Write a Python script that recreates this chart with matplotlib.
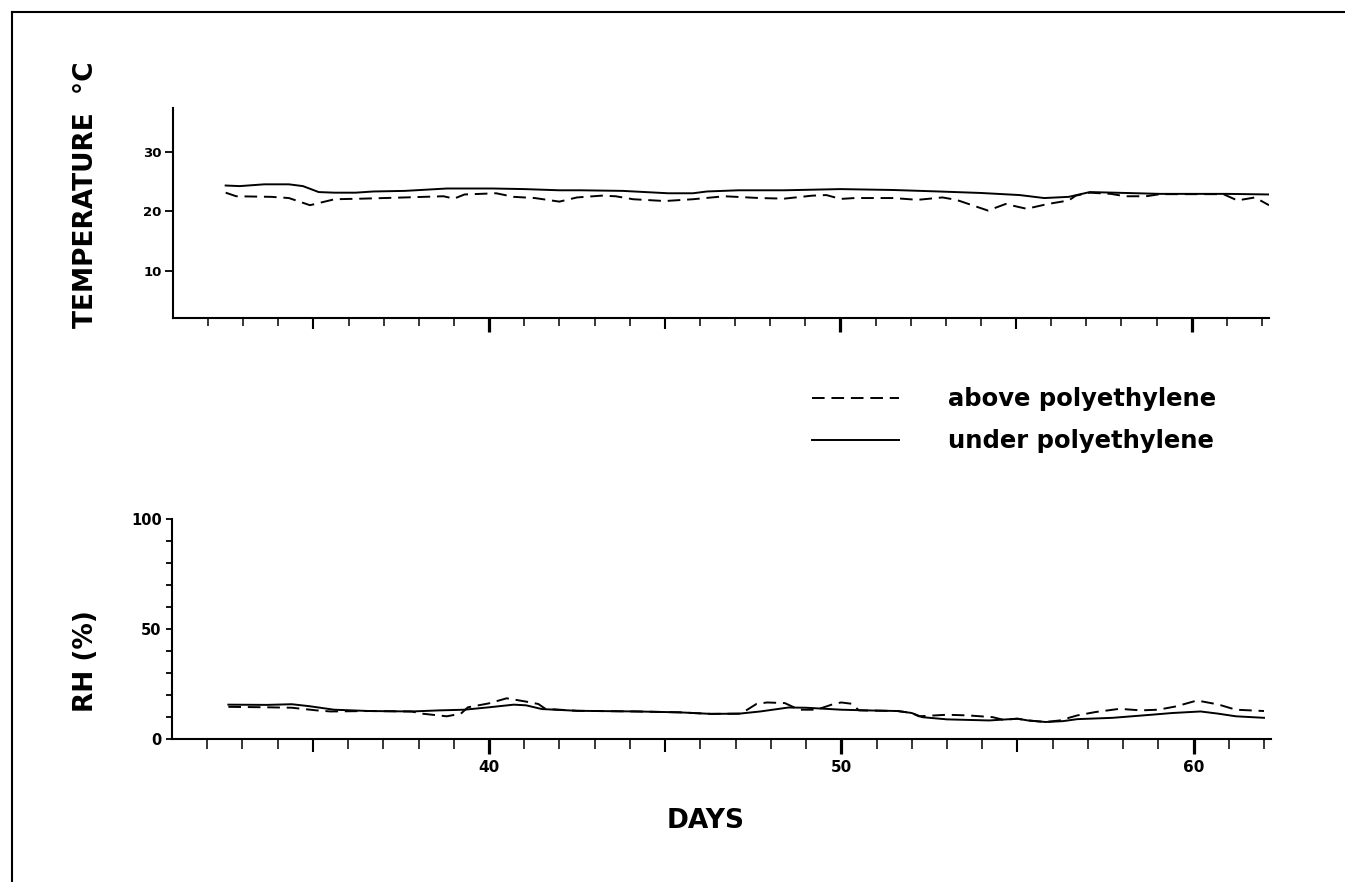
import numpy as np
import matplotlib.pyplot as plt
from matplotlib.lines import Line2D

plt.rcParams['font.family'] = ['DejaVu Sans']
plt.rcParams['font.weight'] = 'bold'

# temperature (deg C)
t_under_days = [32.5, 32.9, 33.6, 34.3, 34.7, 35.15, 35.6, 36.2, 36.7, 37.6, 38.2, 38.8, 40.1, 41.0,
                42.0, 42.6, 43.8, 45.1, 45.8, 46.2, 47.1, 48.4, 50.0, 51.5, 52.8, 54.0, 55.1, 55.8,
                56.5, 57.1, 57.8, 59.1, 61.0, 62.2]
t_under = [24.3, 24.2, 24.5, 24.5, 24.2, 23.2, 23.1, 23.1, 23.3, 23.4, 23.6, 23.8, 23.8, 23.7,
           23.5, 23.5, 23.4, 23.0, 23.0, 23.3, 23.5, 23.5, 23.7, 23.55, 23.3, 23.05, 22.7, 22.2,
           22.4, 23.2, 23.1, 22.9, 22.9, 22.8]

t_above_days = [32.5, 32.8, 33.8, 34.3, 34.9, 35.6, 36.4, 37.6, 38.7, 39.0, 39.3, 40.2, 40.7, 41.3,
                42.0, 42.5, 43.2, 43.6, 44.1, 45.0, 45.8, 46.7, 47.7, 48.4, 49.2, 49.6, 50.0, 50.4,
                51.5, 52.2, 52.9, 53.3, 54.2, 54.7, 55.3, 55.9, 56.5, 56.7, 57.1, 57.7, 58.1, 58.7,
                59.1, 60.9, 61.3, 61.8, 62.2]
t_above = [23.1, 22.5, 22.4, 22.2, 21.0, 22.0, 22.1, 22.3, 22.5, 22.1, 22.8, 23.0, 22.4, 22.2,
           21.6, 22.3, 22.6, 22.5, 22.0, 21.7, 22.0, 22.5, 22.2, 22.1, 22.6, 22.7, 22.05, 22.2,
           22.2, 21.9, 22.3, 21.9, 20.1, 21.2, 20.4, 21.2, 21.8, 22.6, 23.1, 22.9, 22.5, 22.5,
           22.85, 22.85, 21.8, 22.3, 21.0]

# relative humidity (%)
rh_under_days = [32.6, 33.7, 34.4, 34.9, 35.6, 36.6, 37.8, 38.6, 39.3, 40.0, 40.7, 41.05, 41.5, 42.5,
                 44.2, 45.4, 46.3, 47.1, 47.7, 48.5, 49.0, 50.0, 50.7, 51.6, 52.0, 52.3, 53.0, 54.2,
                 55.0, 55.3, 55.8, 56.3, 56.7, 57.7, 58.8, 59.4, 60.2, 60.7, 61.2, 62.0]
rh_under = [15.5, 15.4, 15.7, 14.8, 13.2, 12.6, 12.4, 12.9, 13.2, 14.3, 15.5, 15.2, 13.5, 12.7,
            12.4, 12.0, 11.3, 11.4, 12.4, 14.2, 14.1, 13.2, 12.9, 12.6, 11.7, 9.8, 8.8, 8.3,
            9.1, 8.3, 7.6, 8.0, 8.9, 9.5, 10.9, 11.7, 12.4, 11.4, 10.2, 9.5]

rh_above_days = [32.6, 33.7, 34.4, 35.1, 35.5, 36.6, 37.8, 38.1, 38.8, 39.2, 39.4, 40.0, 40.5, 41.05,
                 41.4, 41.6, 42.5, 44.2, 45.4, 46.3, 47.15, 47.6, 47.9, 48.4, 48.8, 49.3, 49.8, 50.0,
                 50.3, 50.5, 51.6, 52.0, 52.2, 53.0, 53.6, 54.3, 54.6, 55.0, 55.3, 55.8, 56.2, 56.7,
                 57.2, 57.9, 58.5, 59.0, 59.5, 60.1, 60.7, 61.2, 62.0]
rh_above = [14.5, 14.3, 14.1, 12.9, 12.4, 12.6, 12.4, 11.4, 10.2, 11.4, 14.3, 16.1, 18.4, 16.9,
            15.8, 13.6, 12.7, 12.4, 12.0, 11.3, 11.4, 15.9, 16.5, 16.2, 13.2, 13.2, 15.9, 16.5,
            15.9, 12.9, 12.6, 11.7, 10.2, 10.9, 10.6, 9.8, 8.6, 9.1, 8.3, 7.6, 8.3, 10.6,
            12.1, 13.6, 12.9, 13.2, 14.7, 17.4, 15.6, 13.2, 12.6]

days_ticks = list(range(32, 63))
dash = (0, (6.5, 3.5))
lw = 1.4


def style_days_axis(ax, lens, labels):
    minor_len, mid_len, major_len = lens
    for side in ["top", "right"]:
        ax.spines[side].set_visible(False)
    for side in ["left", "bottom"]:
        ax.spines[side].set_linewidth(1.5)
    ax.set_xlim(31.0, 62.2)
    ax.set_xticks([40, 50, 60])
    ax.set_xticks(days_ticks, minor=True)
    ax.tick_params(axis="x", which="major", length=major_len, width=2.3, pad=4.5,
                   labelbottom=labels, labelsize=11)
    ax.tick_params(axis="x", which="minor", length=minor_len, width=1.1)
    sec = ax.secondary_xaxis("bottom")
    sec.set_xticks([35, 45, 55])
    sec.tick_params(length=mid_len, width=1.5, labelbottom=False)
    sec.spines["bottom"].set_visible(False)


fig = plt.figure(figsize=(13.45, 8.82), dpi=100)

# top panel: temperature
ax1 = fig.add_axes([0.1286, 0.6395, 0.8149, 0.2381])
ax1.plot(t_under_days, t_under, color="black", lw=lw, label="under polyethylene")
ax1.plot(t_above_days, t_above, color="black", lw=lw, ls=dash, label="above polyethylene")
style_days_axis(ax1, (5.5, 8, 10), False)
ax1.set_ylim(2.1, 37.3)
ax1.set_yticks([10, 20, 30])
ax1.tick_params(axis="y", length=6, width=1.3, pad=2, labelsize=9.5)

# bottom panel: RH
ax2 = fig.add_axes([0.1279, 0.1625, 0.8171, 0.2488])
l_under, = ax2.plot(rh_under_days, rh_under, color="black", lw=lw)
l_above, = ax2.plot(rh_above_days, rh_above, color="black", lw=lw, ls=dash)
style_days_axis(ax2, (7, 9.5, 11), True)
ax2.set_ylim(0, 100)
ax2.set_yticks([0, 50, 100])
ax2.set_yticks(range(10, 100, 10), minor=True)
ax2.tick_params(axis="y", which="both", length=4.5, width=1.3, pad=3, labelsize=10.5)

fig.legend([l_above, l_under], ["above polyethylene", "under polyethylene"],
           loc="upper left", bbox_to_anchor=(0.6037, 0.561), frameon=False,
           prop={"size": 17.5, "weight": "bold"}, handlelength=3.6, handletextpad=2.0,
           labelspacing=0.75, borderpad=0, borderaxespad=0)

fig.text(0.064, 1 - 195 / 882, "TEMPERATURE  °C", rotation=90, ha="center", va="center",
         fontsize=19, fontweight="bold")
fig.text(0.064, 1 - 661 / 882, "RH (%)", rotation=90, ha="center", va="center",
         fontsize=19, fontweight="bold")
fig.text(0.5249, 1 - 821 / 882, "DAYS", ha="center", va="center", fontsize=19, fontweight="bold")

# page frame (top and left edges only visible in the scan)
fig.add_artist(Line2D([0.0089, 1.0], [0.9862, 0.9862], color="black", lw=1.5, transform=fig.transFigure))
fig.add_artist(Line2D([0.0089, 0.0089], [0.0, 0.9862], color="black", lw=1.5, transform=fig.transFigure))

fig.savefig("out.png", dpi=100)
